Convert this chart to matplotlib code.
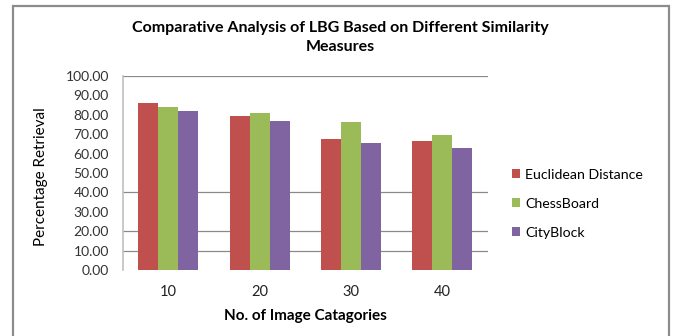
import numpy as np
import matplotlib.pyplot as plt
from matplotlib.patches import Rectangle

# ============ Dados ============
categorias = ['10', '20', '30', '40']
euclidean = [85.9, 79.4, 67.5, 66.3]
chessboard = [83.9, 80.8, 76.1, 69.4]
cityblock = [82.0, 76.6, 65.6, 62.9]
series_nomes = ['Euclidean Distance', 'ChessBoard', 'CityBlock']
y_ticks = [0, 10, 20, 30, 40, 50, 60, 70, 80, 90, 100]
grid_visiveis = [10, 20, 40, 100]

cores = ['#C0504D', '#9BBB59', '#8064A2']
fonte = ['Lato', 'DejaVu Sans']

fig = plt.figure(figsize=(6.73, 3.36), dpi=100)
W, H = 673, 336

# moldura externa
fig.patches.append(Rectangle((12.5 / W, -0.05), (669 - 12.5) / W, (336 - 5.5) / H + 0.05,
                             transform=fig.transFigure, fill=False,
                             edgecolor='#8c8c8c', linewidth=1.6))

ax = fig.add_axes([122.7 / W, 1 - 270 / H, (487.7 - 122.7) / W, (270 - 76) / H])

x = np.arange(len(categorias))
largura = 0.219
for i, (vals, nome) in enumerate(zip([euclidean, chessboard, cityblock], series_nomes)):
    ax.bar(x + (i - 1) * largura, vals, width=largura, color=cores[i], label=nome, zorder=3)

for g in grid_visiveis:
    ax.axhline(g, color='#8a8a8a', linewidth=0.9, zorder=1)

ax.set_xlim(-0.5, len(categorias) - 0.5)
ax.set_ylim(0, 100)
ax.set_yticks(y_ticks)
ax.set_yticklabels([f'{v:.2f}' for v in y_ticks], fontsize=10, family=fonte, color='#333333')
ax.set_yticks(grid_visiveis, minor=True)
ax.set_xticks(x)
ax.set_xticklabels(categorias, fontsize=10.5, family=fonte, color='#222222')
ax.tick_params(axis='y', which='major', length=0, pad=10)
ax.tick_params(axis='y', which='minor', length=3, width=0.9, color='#8a8a8a')
ax.tick_params(axis='x', length=0, pad=11)

for s in ['top', 'right', 'bottom']:
    ax.spines[s].set_visible(False)
ax.spines['left'].set_color('#c0c0c0')
ax.spines['left'].set_linewidth(1.2)

ax.set_ylabel('Percentage Retrieval', fontsize=11, family=fonte)
ax.yaxis.set_label_coords((48 - 122.7) / (487.7 - 122.7), 0.48)
ax.set_xlabel('No. of Image Catagories', fontsize=11, family=fonte, fontweight='bold', labelpad=7)

fig.text(340 / W, 1 - 28 / H, 'Comparative Analysis of LBG Based on Different Similarity',
         ha='center', va='center', fontsize=11.5, family=fonte, fontweight='bold')
fig.text(340 / W, 1 - 47 / H, 'Measures',
         ha='center', va='center', fontsize=11.5, family=fonte, fontweight='bold')

fig.legend(loc='upper left', bbox_to_anchor=(499 / W, 1 - 156 / H), frameon=False,
           prop={'family': fonte, 'size': 10.2}, handlelength=0.6, handleheight=0.6,
           handletextpad=0.35, labelspacing=1.2)

fig.savefig('out.png', dpi=100)
